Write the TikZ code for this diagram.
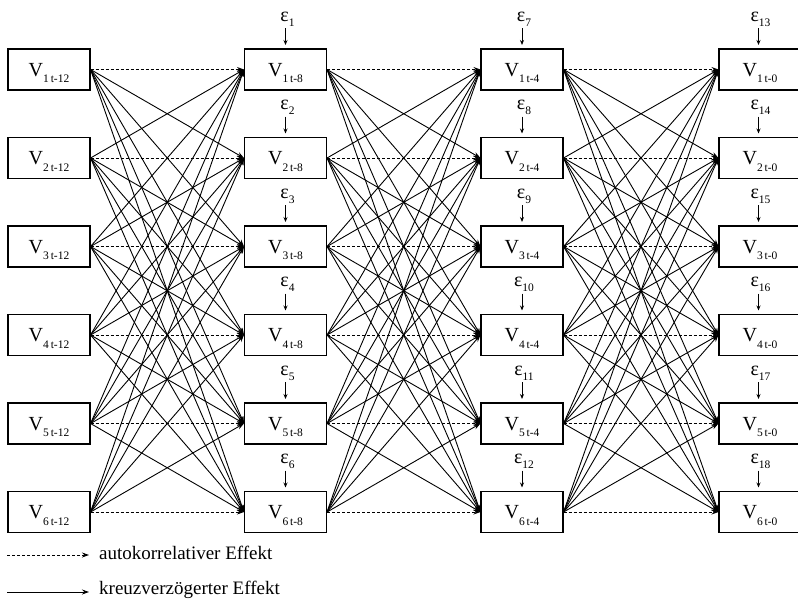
\documentclass[tikz,border=0pt]{standalone}
\usepackage{fontspec}
\setmainfont{Liberation Serif}
\usetikzlibrary{arrows.meta}
\tikzset{
  vbox/.style={draw, line width=1.1pt, minimum width=82pt, minimum height=41pt, inner sep=0pt, text depth=0pt},
  auto/.style={line width=0.9pt, dash pattern=on 3pt off 2pt, -{Stealth[length=7pt,width=5pt]}},
  cross/.style={line width=0.9pt, -{Stealth[length=7pt,width=5pt]}},
  epsl/.style={inner sep=0pt, anchor=base},
  errarr/.style={line width=0.9pt, -{Stealth[length=5pt,width=4pt]}},
  legtext/.style={anchor=west, inner sep=0pt, font=\fontsize{19}{22}\selectfont}
}
\newcommand{\vlab}[2]{{\fontsize{20}{20}\selectfont V}\raisebox{-6.5pt}{\fontsize{11.5}{12}\selectfont #1\,t-#2}}
\newcommand{\elab}[1]{{\fontsize{20}{20}\selectfont ε}\raisebox{-5pt}{\fontsize{11.5}{12}\selectfont #1}}
\begin{document}
\begin{tikzpicture}[x=1pt,y=-1pt]
\useasboundingbox (0,0) rectangle (798,598);
\def\colA{49}\def\colB{285.5}\def\colC{522}\def\colD{758.5}
\foreach \r in {1,...,6}{
  \pgfmathsetmacro{\yy}{69.5+88.5*(\r-1)}
  \node[vbox] (c1r\r) at (\colA,\yy) {\vlab{\r}{12}};
  \node[vbox] (c2r\r) at (\colB,\yy) {\vlab{\r}{8}};
  \node[vbox] (c3r\r) at (\colC,\yy) {\vlab{\r}{4}};
  \node[vbox] (c4r\r) at (\colD+1.5,\yy) {\vlab{\r}{0}};
}
% error terms
\foreach \c/\x/\o in {2/\colB/0,3/\colC/6,4/\colD/12}{
  \foreach \r in {1,...,6}{
    \pgfmathtruncatemacro{\n}{\r+\o}
    \pgfmathsetmacro{\yt}{69.5+88.5*(\r-1)-20.5}
    \node[epsl] (e\c r\r) at (\x+2,\yt-28) {\elab{\n}};
    \coordinate (ea\c r\r) at (\x,\yt-21);
    \coordinate (eb\c r\r) at (\x,\yt-4);
    \draw[errarr] (ea\c r\r) -- (eb\c r\r);
  }
}
% connectors
\foreach \c [evaluate=\c as \d using int(\c+1)] in {1,2,3}{
  \foreach \i in {1,...,6}{
    \foreach \j in {1,...,6}{
      \ifnum\i=\j
        \draw[auto] (c\c r\i.east) -- (c\d r\j.west);
      \else
        \draw[cross] (c\c r\i.east) -- (c\d r\j.west);
      \fi
    }
  }
}
% legend
\coordinate (la1) at (7,555);
\coordinate (la2) at (89,555);
\draw[auto] (la1) -- (la2);
\node[legtext] (lt1) at (99,553) {autokorrelativer Effekt};
\coordinate (lb1) at (7,592);
\coordinate (lb2) at (89,592);
\draw[cross] (lb1) -- (lb2);
\node[legtext] (lt2) at (99,590) {kreuzverzögerter Effekt};
\end{tikzpicture}
\end{document}
